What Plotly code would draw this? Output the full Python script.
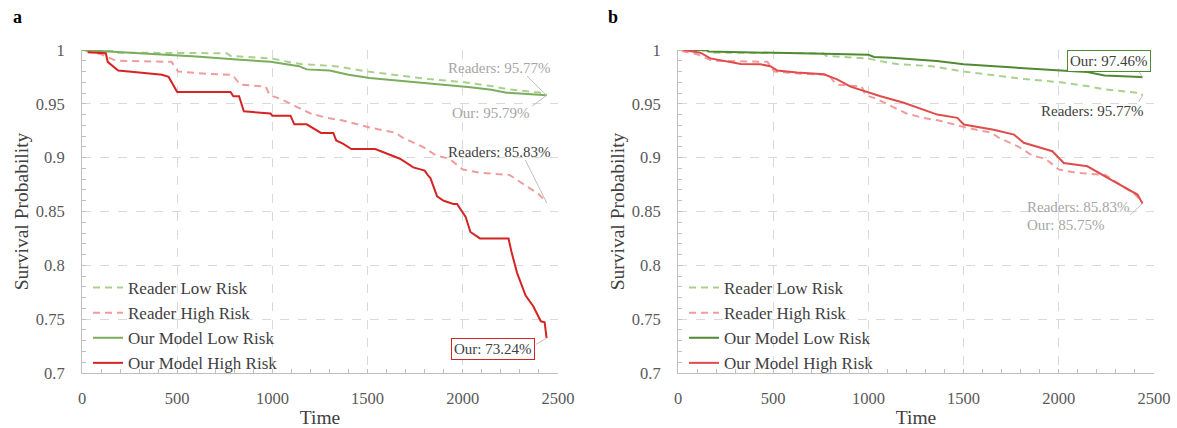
import plotly.graph_objects as go

# ---- data -------------------------------------------------------------
# Reader stratification (identical in both panels)
reader_low_t = [0, 170, 180, 760, 780, 1000, 1080, 1150, 1330, 1500, 1660, 1820, 2010, 2150, 2240, 2350, 2430, 2440]
reader_low_s = [1.0, 0.999, 0.9975, 0.997, 0.9945, 0.992, 0.989, 0.987, 0.985, 0.980, 0.9765, 0.973, 0.970, 0.9665, 0.9635, 0.9615, 0.960, 0.9577]

reader_high_t = [20, 100, 180, 470, 505, 650, 790, 830, 965, 985, 1020, 1050, 1130, 1200, 1285, 1370, 1510, 1650, 1680,
                 1790, 1860, 1930, 2000, 2090, 2245, 2335, 2400, 2440]
reader_high_s = [0.999, 0.996, 0.990, 0.989, 0.980, 0.978, 0.977, 0.968, 0.966, 0.958, 0.956, 0.954, 0.947, 0.941, 0.937,
                 0.9345, 0.928, 0.923, 0.919, 0.910, 0.902, 0.899, 0.889, 0.886, 0.884, 0.874, 0.866, 0.8583]

# Panel a: our model
a_low_t = [0, 200, 480, 600, 830, 990, 1140, 1180, 1300, 1400, 1510, 1700, 1830, 2040, 2150, 2230, 2440]
a_low_s = [1.0, 0.998, 0.9954, 0.994, 0.991, 0.989, 0.985, 0.982, 0.981, 0.977, 0.974, 0.971, 0.969, 0.9654, 0.963, 0.9604, 0.9579]

a_high_t = [30, 125, 135, 190, 300, 420, 455, 500, 780, 795, 825, 850, 990, 1000, 1095, 1115, 1180, 1255, 1320, 1335,
            1370, 1400, 1415, 1540, 1600, 1670, 1740, 1800, 1815, 1830, 1865, 1900, 1950, 1970, 2015, 2040, 2090, 2240,
            2255, 2285, 2330, 2370, 2410, 2430, 2440]
a_high_s = [0.998, 0.997, 0.989, 0.981, 0.979, 0.977, 0.975, 0.961, 0.961, 0.957, 0.957, 0.943, 0.941, 0.939, 0.939,
            0.931, 0.931, 0.923, 0.923, 0.916, 0.913, 0.910, 0.908, 0.908, 0.904, 0.899, 0.891, 0.888, 0.884, 0.881,
            0.864, 0.860, 0.857, 0.857, 0.845, 0.831, 0.825, 0.825, 0.813, 0.793, 0.772, 0.762, 0.748, 0.747, 0.7324]

# Panel b: our model
b_low_t = [30, 150, 160, 590, 770, 1000, 1030, 1120, 1190, 1360, 1500, 1820, 2010, 2150, 2240, 2430, 2440]
b_low_s = [1.0, 1.0, 0.9985, 0.9975, 0.9965, 0.9955, 0.9935, 0.9927, 0.992, 0.9898, 0.9867, 0.9827, 0.981, 0.9796,
           0.9764, 0.9749, 0.9746]

b_high_t = [30, 117, 170, 240, 330, 433, 485, 520, 626, 766, 836, 906, 1011, 1064, 1186, 1362, 1467, 1501, 1658, 1765,
            1816, 1966, 2026, 2150, 2273, 2413, 2440]
b_high_s = [1.0, 0.9975, 0.9922, 0.9898, 0.987, 0.9867, 0.985, 0.981, 0.979, 0.9774, 0.9728, 0.966, 0.9601, 0.957,
            0.951, 0.940, 0.937, 0.9308, 0.926, 0.9214, 0.9138, 0.906, 0.895, 0.892, 0.8796, 0.8657, 0.8575]

series_names = ["Reader Low Risk", "Reader High Risk", "Our Model Low Risk", "Our Model High Risk"]
y_ticks = [0.7, 0.75, 0.8, 0.85, 0.9, 0.95, 1.0]
x_ticks = [0, 500, 1000, 1500, 2000, 2500]

# ---- styling ----------------------------------------------------------
FONT = "Liberation Serif"
W, H = 1177, 428
C_RD_LOW = "#a9d18e"
C_RD_HIGH = "#f09c9c"
C_A_LOW = "#7aad5c"
C_A_HIGH = "#d42424"
C_B_LOW = "#508a32"
C_B_HIGH = "#e04c4c"
GREY_TXT = "#a6a6a6"
DARK_TXT = "#404040"
LEADER = "#bfbfbf"

fig = go.Figure()


def add_panel(xa, ya, leg, low_t, low_s, high_t, high_s, c_low, c_high):
    specs = [
        (reader_low_t, reader_low_s, C_RD_LOW, "dash", series_names[0]),
        (reader_high_t, reader_high_s, C_RD_HIGH, "dash", series_names[1]),
        (low_t, low_s, c_low, "solid", series_names[2]),
        (high_t, high_s, c_high, "solid", series_names[3]),
    ]
    for t, s, c, d, name in specs:
        fig.add_trace(go.Scatter(
            x=t, y=s, mode="lines", name=name, xaxis=xa, yaxis=ya, legend=leg,
            line=dict(color=c, width=2, dash="7px,5px" if d == "dash" else "solid"),
            hoverinfo="skip",
        ))


add_panel("x", "y", "legend", a_low_t, a_low_s, a_high_t, a_high_s, C_A_LOW, C_A_HIGH)
add_panel("x2", "y2", "legend2", b_low_t, b_low_s, b_high_t, b_high_s, C_B_LOW, C_B_HIGH)


def xaxis(domain):
    return dict(
        domain=domain, range=[0, 2500], tickvals=x_ticks, ticks="inside", ticklen=4,
        tickcolor=LEADER, showline=True, linecolor=LEADER, linewidth=1,
        showgrid=True, gridcolor="#d9d9d9", griddash="dash", gridwidth=1, zeroline=False,
        minor=dict(dtick=100, ticks="inside", ticklen=4, tickcolor=LEADER, showgrid=False),
        tickfont=dict(family=FONT, size=16.5, color="#595959"), ticklabelstandoff=10,
        title=dict(text="Time", font=dict(family=FONT, size=19.5, color=DARK_TXT), standoff=3),
        automargin=False, fixedrange=True,
    )


def yaxis(anchor):
    return dict(
        domain=[1 - 373 / H, 1 - 50 / H], anchor=anchor, range=[0.7, 1.0], tickvals=y_ticks,
        ticktext=[f"{v:g}" for v in y_ticks], ticks="inside", ticklen=4, tickcolor=LEADER,
        showline=True, linecolor=LEADER, linewidth=1,
        showgrid=True, gridcolor="#d9d9d9", griddash="dash", gridwidth=1, zeroline=False,
        minor=dict(dtick=0.01, ticks="inside", ticklen=4, tickcolor=LEADER, showgrid=False),
        tickfont=dict(family=FONT, size=16.5, color="#595959"), ticklabelstandoff=13,
        title=dict(text="Survival Probability", font=dict(family=FONT, size=19.5, color=DARK_TXT), standoff=2),
        automargin=False, fixedrange=True,
    )


def legend(x_px, y_px):
    return dict(
        x=x_px / W, y=1 - y_px / H, xanchor="left", yanchor="top",
        bgcolor="rgba(0,0,0,0)", tracegroupgap=0, itemwidth=30,
        font=dict(family=FONT, size=17, color=DARK_TXT),
    )


annotations = [
    dict(text="<b>a</b>", x=11 / W, y=1 - 17 / H, xref="paper", yref="paper", xanchor="left", yanchor="middle",
         showarrow=False, font=dict(family=FONT, size=18, color="#000")),
    dict(text="<b>b</b>", x=606 / W, y=1 - 17 / H, xref="paper", yref="paper", xanchor="left", yanchor="middle",
         showarrow=False, font=dict(family=FONT, size=18, color="#000")),
]


def label(text, xref, yref, x, y, color, xanchor="right", border=None):
    d = dict(text=text, x=x, y=y, xref=xref, yref=yref, xanchor=xanchor, yanchor="middle", showarrow=False,
             font=dict(family=FONT, size=15, color=color))
    if border:
        d.update(bordercolor=border, borderwidth=1, borderpad=2, bgcolor="white")
    return d


def leader(xref, yref, t, s, ax, ay):
    return dict(text="", x=t, y=s, xref=xref, yref=yref, ax=ax, ay=ay, showarrow=True,
                arrowhead=0, arrowwidth=1, arrowcolor=LEADER, standoff=0)


# panel a end-of-curve labels
annotations += [
    leader("x", "y", reader_low_t[-1], reader_low_s[-1], -21, -21),
    leader("x", "y", a_low_t[-1], a_low_s[-1], -16, 12),
    leader("x", "y", reader_high_t[-1], reader_high_s[-1], -22, -44),
    leader("x", "y", a_high_t[-1], a_high_s[-1], -12, 7),
    label(f"Readers: {reader_low_s[-1] * 100:.2f}%", "x", "y", 2466, 0.983, GREY_TXT),
    label(f"Our: {a_low_s[-1] * 100:.2f}%", "x", "y", 2361, 0.9418, GREY_TXT),
    label(f"Readers: {reader_high_s[-1] * 100:.2f}%", "x", "y", 2466, 0.9056, DARK_TXT),
    label(f"Our: {a_high_s[-1] * 100:.2f}%", "x", "y", 2380, 0.7219, DARK_TXT, border=C_A_HIGH),
]

# panel b end-of-curve labels
annotations += [
    leader("x2", "y2", b_low_t[-1], b_low_s[-1], -5, -8),
    leader("x2", "y2", reader_low_t[-1], reader_low_s[-1], -5, 8),
    leader("x2", "y2", b_high_t[-1], b_high_s[-1], -14, 13),
    label(f"Our: {b_low_s[-1] * 100:.2f}%", "x2", "y2", 2484, 0.98976, DARK_TXT, border=C_B_LOW),
    label(f"Readers: {reader_low_s[-1] * 100:.2f}%", "x2", "y2", 2454, 0.9432, DARK_TXT),
    label(f"Readers: {reader_high_s[-1] * 100:.2f}%", "x2", "y2", 1821, 0.8542, GREY_TXT, xanchor="left"),
    label(f"Our: {b_high_s[-1] * 100:.2f}%", "x2", "y2", 1821, 0.8378, GREY_TXT, xanchor="left"),
]

fig.update_layout(
    width=W, height=H, margin=dict(l=0, r=0, t=0, b=0, autoexpand=False),
    paper_bgcolor="white", plot_bgcolor="white",
    font=dict(family=FONT),
    xaxis=dict(xaxis([82 / W, 558 / W]), anchor="y"),
    yaxis=yaxis("x"),
    xaxis2=dict(xaxis([678 / W, 1154 / W]), anchor="y2"),
    yaxis2=yaxis("x2"),
    legend=legend(88, 270),
    legend2=legend(684, 270),
    annotations=annotations,
    showlegend=True,
)

fig.write_html("out.html")
